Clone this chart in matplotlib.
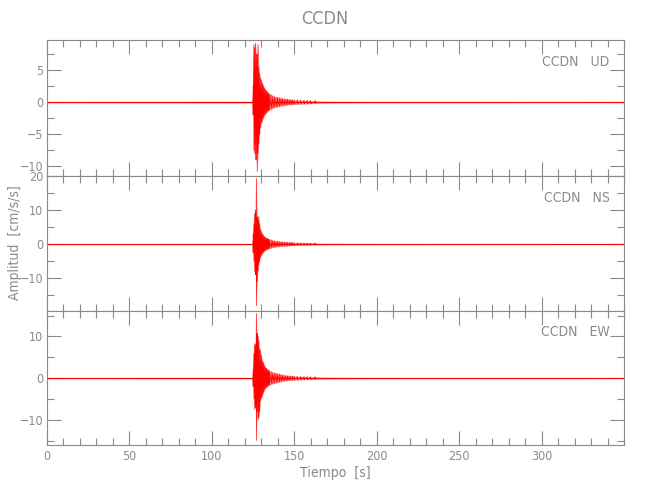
import numpy as np
import matplotlib
matplotlib.use('Agg')
import matplotlib.pyplot as plt
from matplotlib.ticker import MultipleLocator, FixedLocator

plt.rcParams['font.family'] = ['DejaVu Sans']
plt.rcParams['font.stretch'] = 'condensed'
plt.rcParams['font.weight'] = 'light'

estacion = 'CCDN'
componentes = ['UD', 'NS', 'EW']

tiempo = [0, 124.0, 125.0, 125.5, 126.0, 126.5, 127.0, 127.5, 128.0, 128.5,
          129.0, 129.5, 130.0, 130.5, 131.0, 131.5, 132.0, 132.5, 133.0, 133.5,
          134.0, 134.5, 135, 136, 137, 138, 139, 140, 141, 142,
          143, 144, 145, 146, 147, 148, 149, 150, 152, 154,
          156, 158, 160, 163, 166, 170, 175, 180, 190, 200, 350]

# envolventes maxima / minima (cm/s/s) por ventana
ud_max = [0.1, 0.15, 2.5, 9.0, 8.5, 9.2, 7.5, 7.5, 9.0, 5.5,
          4.5, 3.8, 3.5, 3.0, 2.8, 2.4, 2.2, 2.0, 1.8, 1.7,
          1.5, 1.4, 1.3, 1.2, 1.0, 0.9, 0.8, 0.8, 0.7, 0.65,
          0.6, 0.55, 0.5, 0.5, 0.45, 0.4, 0.4, 0.38, 0.35, 0.32,
          0.3, 0.28, 0.25, 0.22, 0.2, 0.18, 0.16, 0.15, 0.13, 0.12, 0.08]
ud_min = [-0.1, -0.15, -2.0, -7.5, -8.0, -9.0, -9.0, -10.8, -8.0, -6.5,
          -5.0, -4.0, -3.3, -3.0, -2.6, -2.3, -2.0, -1.9, -1.7, -1.6,
          -1.4, -1.3, -1.2, -1.1, -0.95, -0.85, -0.75, -0.75, -0.65, -0.6,
          -0.55, -0.5, -0.48, -0.45, -0.42, -0.4, -0.38, -0.35, -0.33, -0.3,
          -0.28, -0.26, -0.24, -0.21, -0.19, -0.17, -0.15, -0.14, -0.12, -0.11, -0.08]

ns_max = [0.15, 0.2, 3.0, 6.0, 9.0, 10.0, 19.3, 8.0, 7.0, 8.3,
          6.0, 4.5, 3.8, 3.2, 2.8, 2.5, 2.2, 2.0, 1.8, 1.7,
          1.6, 1.5, 1.4, 1.3, 1.1, 1.0, 0.9, 0.85, 0.8, 0.75,
          0.7, 0.65, 0.6, 0.58, 0.55, 0.5, 0.5, 0.45, 0.42, 0.4,
          0.37, 0.35, 0.33, 0.3, 0.28, 0.26, 0.24, 0.22, 0.2, 0.18, 0.1]
ns_min = [-0.15, -0.2, -2.5, -5.0, -8.0, -9.0, -18.1, -11.0, -8.0, -6.0,
          -5.0, -4.0, -3.3, -3.0, -2.6, -2.3, -2.1, -1.9, -1.7, -1.6,
          -1.5, -1.4, -1.3, -1.2, -1.0, -0.95, -0.85, -0.8, -0.75, -0.7,
          -0.65, -0.6, -0.58, -0.55, -0.5, -0.48, -0.45, -0.42, -0.4, -0.37,
          -0.35, -0.33, -0.3, -0.28, -0.26, -0.24, -0.22, -0.2, -0.18, -0.16, -0.1]

ew_max = [0.15, 0.2, 2.0, 6.0, 8.3, 8.0, 15.5, 10.7, 10.0, 9.0,
          7.0, 6.7, 5.5, 4.4, 4.0, 3.5, 3.0, 2.6, 2.4, 2.2,
          2.0, 1.9, 1.8, 1.6, 1.4, 1.3, 1.2, 1.1, 1.0, 0.9,
          0.8, 0.7, 0.65, 0.6, 0.58, 0.55, 0.52, 0.5, 0.45, 0.42,
          0.4, 0.37, 0.35, 0.32, 0.3, 0.27, 0.25, 0.22, 0.2, 0.18, 0.1]
ew_min = [-0.15, -0.2, -2.0, -5.0, -7.5, -7.0, -14.9, -8.0, -9.9, -9.5,
          -8.0, -5.5, -4.8, -4.4, -3.8, -3.3, -2.8, -2.5, -2.3, -2.1,
          -1.9, -1.8, -1.7, -1.5, -1.35, -1.25, -1.15, -1.05, -0.95, -0.85,
          -0.75, -0.68, -0.62, -0.58, -0.55, -0.52, -0.5, -0.48, -0.44, -0.4,
          -0.38, -0.35, -0.33, -0.3, -0.28, -0.26, -0.24, -0.21, -0.19, -0.17, -0.1]

envolventes = [(ud_max, ud_min), (ns_max, ns_min), (ew_max, ew_min)]
ylims = [(-11.5, 9.7), (-19.5, 20.0), (-16.0, 16.2)]
y_major = [5, 10, 10]
y_minor = [2.5, 5, 5]
x_etiquetas = [0, 50, 100, 150, 200, 250, 300]

gris = '#8a8a8a'

fig = plt.figure(figsize=(6.5, 5), dpi=100)
left, width = 47 / 650, (624 - 47) / 650
tops = [40, 176, 310.5, 445]

axes = []
for i in range(3):
    bottom = 1 - tops[i + 1] / 500
    height = (tops[i + 1] - tops[i]) / 500
    ax = fig.add_axes([left, bottom, width, height])
    axes.append(ax)

    vmax, vmin = envolventes[i]
    # relleno de la envolvente y traza en zigzag por ventana
    ax.fill_between(tiempo, vmin, vmax, color='#ff5050', alpha=0.55, linewidth=0)
    x = np.repeat(tiempo[2:44], 2)
    y = np.column_stack([vmax[2:44], vmin[2:44]]).ravel()
    ax.plot(x, y, color='red', linewidth=0.45)
    ax.axhline(0, color='red', linewidth=0.8)

    ax.set_xlim(0, 350)
    ax.set_ylim(*ylims[i])
    ax.xaxis.set_major_locator(FixedLocator(x_etiquetas))
    ax.xaxis.set_minor_locator(MultipleLocator(10))
    ax.yaxis.set_major_locator(MultipleLocator(y_major[i]))
    ax.yaxis.set_minor_locator(MultipleLocator(y_minor[i]))
    ax.tick_params(which='both', direction='in', top=True, right=True,
                   colors=gris, labelcolor=gris, labelsize=9, width=0.8)
    ax.tick_params(which='major', length=10)
    ax.tick_params(which='minor', length=5)
    ax.tick_params(axis='y', pad=2.5)
    for s in ax.spines.values():
        s.set_color(gris)
        s.set_linewidth(0.8)
    if i < 2:
        ax.tick_params(labelbottom=False)

    ax.text(0.975, 0.84, f'{estacion}   {componentes[i]}', transform=ax.transAxes,
            ha='right', va='center', color=gris, fontsize=10)

axes[2].set_xlabel('Tiempo  [s]', color=gris, fontsize=10, labelpad=2)
fig.text(15 / 650, 1 - 243 / 500, 'Amplitud  [cm/s/s]', rotation=90,
         ha='center', va='center', color=gris, fontsize=10)
fig.text(0.5, 0.962, estacion, ha='center', va='center', color=gris, fontsize=13)

fig.savefig('out.png', dpi=100)
